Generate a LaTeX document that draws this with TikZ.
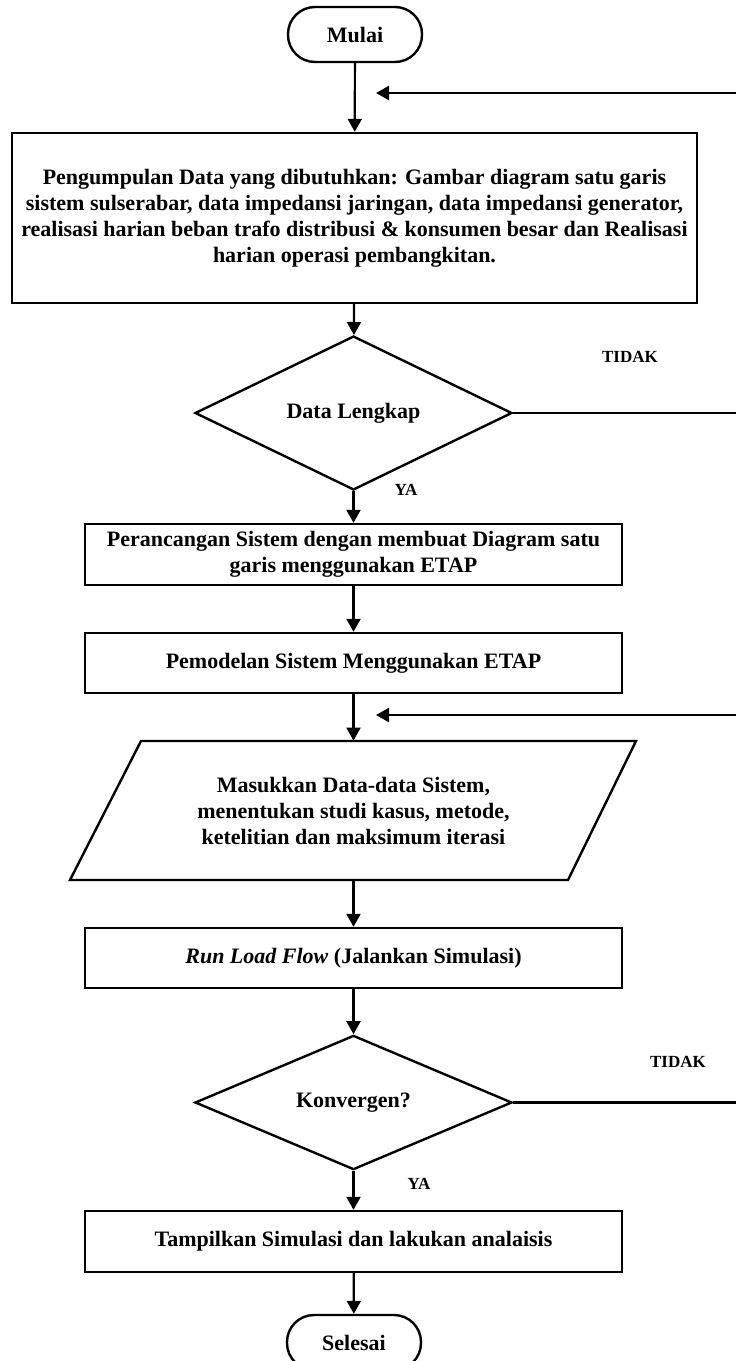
\documentclass[tikz,border=0pt]{standalone}
\usepackage{fontspec}
\setmainfont{Liberation Serif}
\usetikzlibrary{arrows.meta,shapes.geometric,calc}
\begin{document}
\begin{tikzpicture}[x=0.5pt,y=-0.5pt,
  every node/.style={font=\bfseries\fontsize{11pt}{13pt}\selectfont},
  conn/.style={line width=1.1pt},
  arr/.style={line width=1.1pt,-{Triangle[length=6.5pt,width=7pt]}},
  proc/.style={draw,line width=1.2pt,rectangle,align=center,inner sep=0pt},
  term/.style={draw,line width=1.2pt,rectangle,rounded corners=13.5pt,minimum width=67pt,minimum height=27.5pt,inner sep=0pt},
  dec/.style={draw,line width=1.2pt,diamond,minimum width=158.5pt,minimum height=65.5pt,inner sep=0pt},
  lbl/.style={font=\bfseries\fontsize{8.5pt}{10pt}\selectfont}
]
\useasboundingbox (0,0) rectangle (736,1361);

\node[term] (mulai) at (355,34.5) {Mulai};
\node[proc,minimum width=342.5pt,minimum height=85pt] (box1) at (354.5,218)
  {Pengumpulan Data yang dibutuhkan: Gambar diagram satu garis\\
   sistem sulserabar, data impedansi jaringan, data impedansi generator,\\
   realisasi harian beban trafo distribusi \& konsumen besar dan Realisasi\\
   harian operasi pembangkitan.};
\node[dec] (d1) at (353.5,413) {Data Lengkap};
\node[lbl] (tidak1) at (630,357) {TIDAK};
\node[lbl] (ya1) at (406,490) {YA};
\node[proc,minimum width=268.5pt,minimum height=30.5pt] (box2) at (353.5,554.5)
  {Perancangan Sistem dengan membuat Diagram satu\\ garis menggunakan ETAP};
\node[proc,minimum width=268.5pt,minimum height=30pt] (box3) at (353.5,663)
  {Pemodelan Sistem Menggunakan ETAP};
\node[align=center,minimum width=240pt,minimum height=69.5pt,inner sep=0pt] (para) at (353.5,810.5)
  {Masukkan Data-data Sistem,\\ menentukan studi kasus, metode,\\ ketelitian dan maksimum iterasi};
\draw[line width=1.2pt] (141,741) -- (636,741) -- (568,880) -- (70,880) -- cycle;
\node[proc,minimum width=268.5pt,minimum height=30pt] (run) at (353.5,958)
  {\textit{Run Load Flow} (Jalankan Simulasi)};
\node[dec] (d2) at (353.5,1102.5) {Konvergen?};
\node[lbl] (tidak2) at (678,1062) {TIDAK};
\node[lbl] (ya2) at (419,1184) {YA};
\node[proc,minimum width=268.5pt,minimum height=30.5pt] (show) at (353.5,1241.5)
  {Tampilkan Simulasi dan lakukan analaisis};
\node[term] (selesai) at (354,1342.5) {Selesai};

\coordinate (r1) at (736,93);
\coordinate (t1) at (376,93);
\coordinate (r2) at (736,413);
\coordinate (r3) at (736,715);
\coordinate (t3) at (376,715);
\coordinate (r4) at (736,1102.5);

\draw[arr] (mulai) -- (box1);
\draw[arr] (r1) -- (t1);
\draw[arr] (box1) -- (d1);
\draw[conn] (d1.east) -- (r2);
\draw[arr] (d1) -- (box2);
\draw[arr] (box2) -- (box3);
\draw[arr] (box3) -- (para);
\draw[arr] (r3) -- (t3);
\draw[arr] (para) -- (run);
\draw[arr] (run) -- (d2);
\draw[conn] (d2.east) -- (r4);
\draw[arr] (d2) -- (show);
\draw[arr] (show) -- (selesai);
\end{tikzpicture}
\end{document}
